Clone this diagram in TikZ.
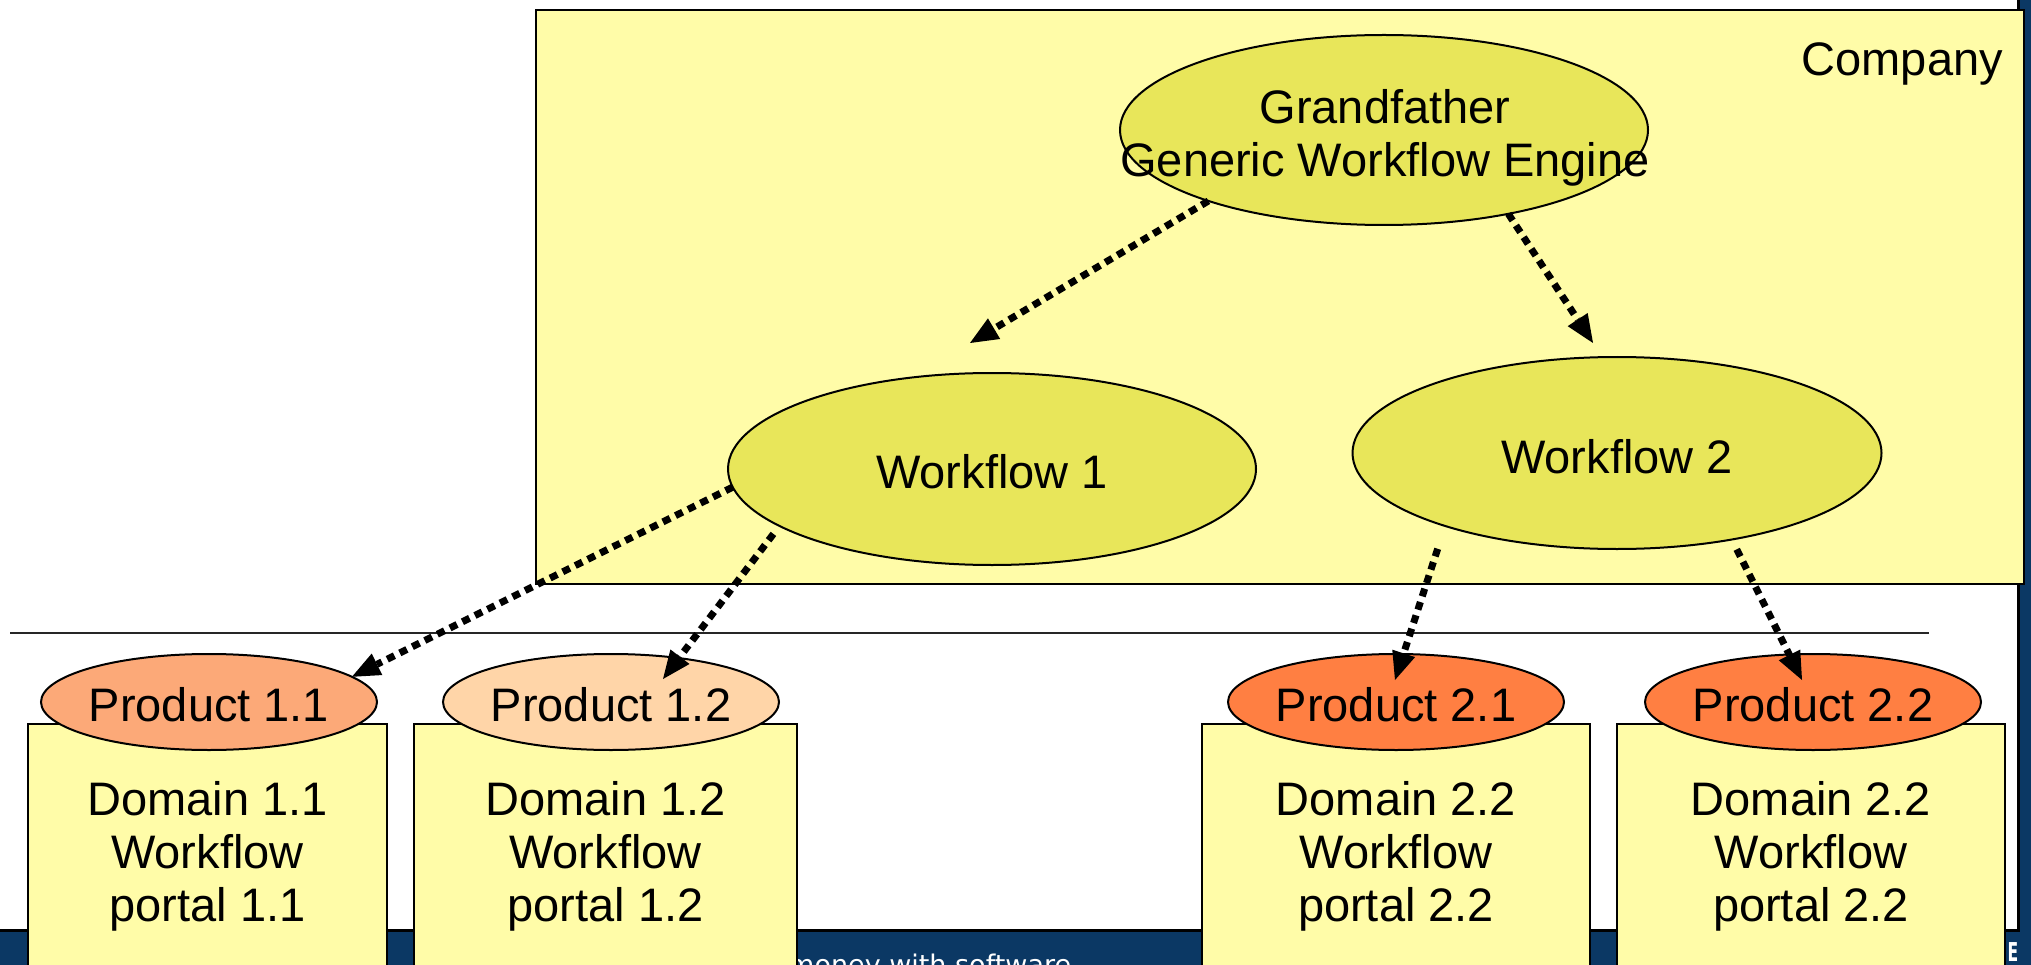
\documentclass[tikz,border=0pt]{standalone}
\usepackage{fontspec}
\setmainfont{Liberation Sans}
\newfontfamily\framefont{DejaVu Sans}
\usetikzlibrary{arrows.meta,shapes.geometric}

\definecolor{paleyellow}{HTML}{FFFCA8}
\definecolor{wfyellow}{HTML}{E8E65A}
\definecolor{prodA}{HTML}{FCA978}
\definecolor{prodB}{HTML}{FFD5A8}
\definecolor{prodC}{HTML}{FF7F42}
\definecolor{frameblue}{HTML}{0B3864}

\tikzset{
  bigtext/.style={font=\fontsize{47}{53}\selectfont},
  txtnode/.style={bigtext, align=center, inner sep=0pt, outer sep=0pt},
  wfoval/.style={ellipse, draw=black, line width=2pt, fill=wfyellow,
    inner sep=0pt, outer sep=0pt, minimum width=528pt, minimum height=191pt, bigtext},
  prodoval/.style={ellipse, draw=black, line width=2pt, inner xsep=-8pt, inner ysep=0pt,
    outer sep=0pt, minimum width=336pt, minimum height=96pt, text height=38.5pt, bigtext},
  domainbox/.style={rectangle, draw=black, line width=2pt, fill=paleyellow,
    inner sep=0pt, outer sep=0pt, minimum height=264pt, align=center, bigtext},
  derivlink/.style={line width=7pt, dash pattern=on 8pt off 6pt,
    -{Triangle[length=28pt,width=24pt,line width=0pt]}}
}

\begin{document}
\begin{tikzpicture}[x=1pt,y=-1pt]
  % page
  \fill[white] (0,0) rectangle (2031,965);
  \useasboundingbox (0,0) rectangle (2031,965);
  \clip (0,0) rectangle (2031,965);

  % slide frame
  \fill[frameblue] (0,931) rectangle (2031,965);
  \fill[frameblue] (2019,0) rectangle (2031,965);
  \draw[line width=3pt] (0,930) -- (2018,930) -- (2018,0);
  \node[font=\framefont\fontsize{27}{32}\selectfont, text=white, anchor=base west,
        inner sep=0pt] (tagline) at (788,974) {money with software};
  \node[font=\framefont\bfseries\fontsize{26}{30}\selectfont, text=white, anchor=base,
        inner sep=0pt] (cornerletter) at (2013,961) {\scalebox{0.6}[1]{E}};

  % company area
  \node[rectangle, draw=black, line width=2pt, fill=paleyellow, inner sep=0pt, outer sep=0pt,
        minimum width=1488pt, minimum height=574pt, anchor=north west] (company) at (536,10) {};
  \node[bigtext, anchor=base east, inner sep=0pt] (companyname) at (2003,76) {Company};

  % separator
  \draw[line width=2pt, black!85] (10,633) -- (1929,633);

  % domain boxes
  \node[domainbox, minimum width=359pt] (d11) at (207.5,856) {Domain 1.1\\Workflow\\portal 1.1};
  \node[domainbox, minimum width=383pt] (d12) at (605.5,856) {Domain 1.2\\Workflow\\portal 1.2};
  \node[domainbox, minimum width=388pt] (d21) at (1396,856) {Domain 2.2\\Workflow\\portal 2.2};
  \node[domainbox, minimum width=388pt] (d22) at (1811,856) {Domain 2.2\\Workflow\\portal 2.2};

  % products
  \node[prodoval, fill=prodA] (p11) at (209,702) {Product 1.1};
  \node[prodoval, fill=prodB] (p12) at (611,702) {Product 1.2};
  \node[prodoval, fill=prodC] (p21) at (1396,702) {Product 2.1};
  \node[prodoval, fill=prodC] (p22) at (1813,702) {Product 2.2};

  % workflows
  \node[wfoval, minimum height=190pt] (gf) at (1384,130) {};
  \node[txtnode] (gftext) at (1385,138) {Grandfather\\Generic Workflow Engine};
  \node[wfoval, minimum height=192pt, text height=39.5pt] (w1) at (992,469) {Workflow 1};
  \node[wfoval, minimum height=192pt, minimum width=529pt, text height=42pt] (w2) at (1617,453) {Workflow 2};

  % arrow ends
  \coordinate (t1) at (970,343);
  \coordinate (t2) at (1593,343);
  \coordinate (h12) at (663,679);
  \coordinate (h21) at (1395,680);
  \coordinate (h22) at (1802,680);

  % derivation arrows
  \draw[derivlink] (gf.202.6) -- (t1);
  \draw[derivlink] (gf.326.5) -- (t2);
  \draw[derivlink] (w1.184.1) -- (p11.10);
  \draw[derivlink, shorten <=10pt] (w1.195.75) -- (h12);
  \draw[derivlink, shorten <=24pt] (w2.203.3) -- (h21);
  \draw[derivlink, shorten <=11pt] (w2.323.2) -- (h22);
\end{tikzpicture}
\end{document}
